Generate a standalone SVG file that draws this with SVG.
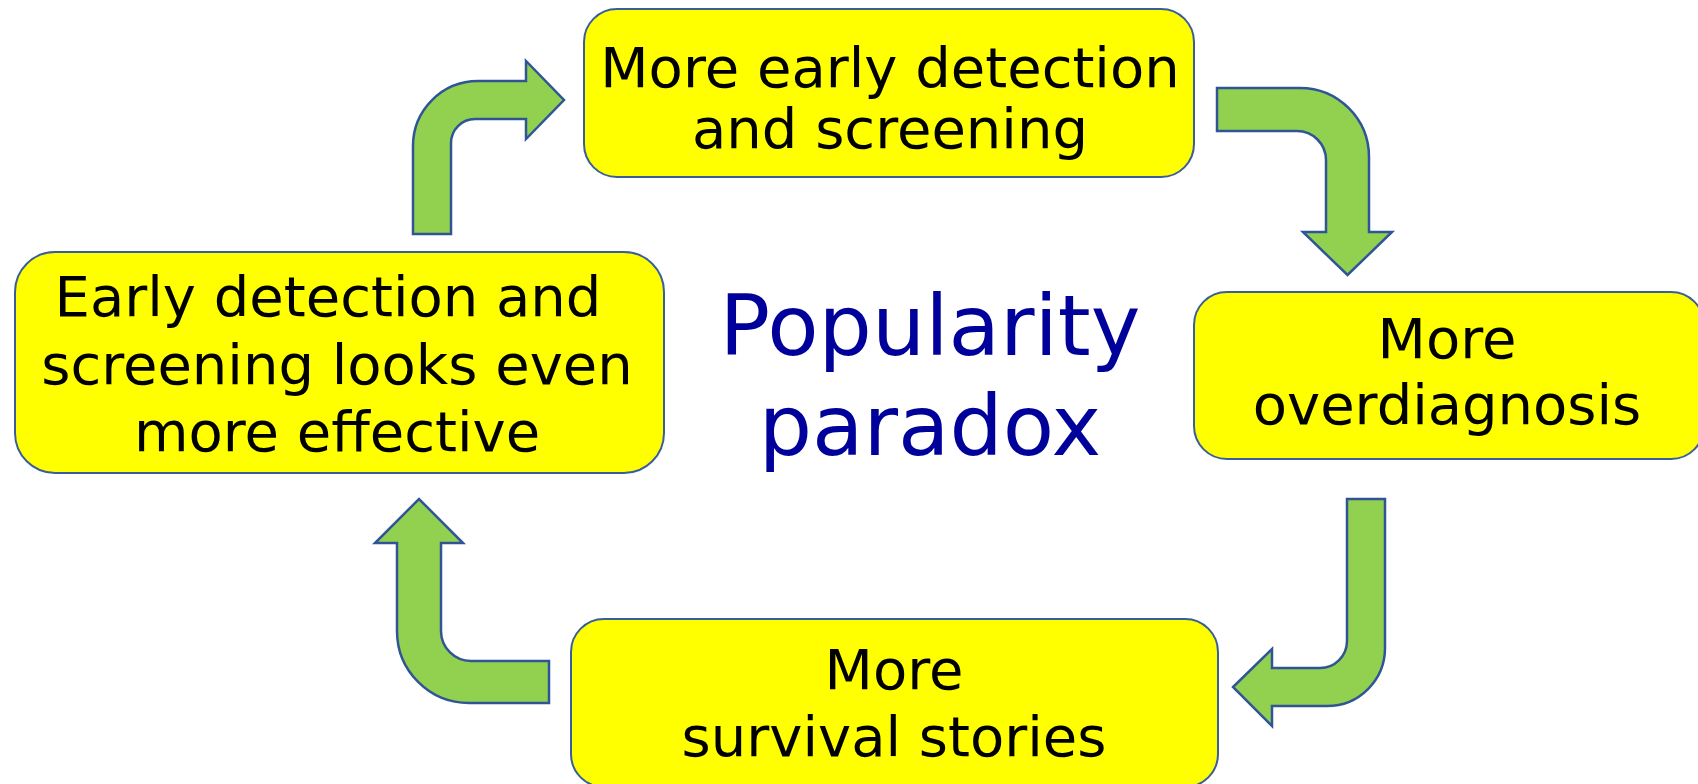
<svg xmlns="http://www.w3.org/2000/svg" width="1698" height="784" viewBox="0 0 1698 784">
  <style>
    .box { fill: #FFFF00; stroke: #3A5E9A; stroke-width: 2; }
    .arrow { fill: #92D050; stroke: #2F5597; stroke-width: 2.5; stroke-linejoin: miter; }
    .label { font-family: "DejaVu Sans", Verdana, sans-serif; font-size: 56px; fill: #000000; text-anchor: middle; }
    .title { font-family: "DejaVu Sans", Verdana, sans-serif; font-size: 84px; fill: #00009A; text-anchor: middle; }
  </style>
  <rect width="1698" height="784" fill="#FFFFFF"/>

  <!-- bent arrows forming the cycle -->
  <g id="connectors">
    <path class="arrow" d="M413,234 L413,146 A65,65 0 0 1 478,81 L526,81 L526,61 L564,100 L526,139 L526,119 L475,119 A24,24 0 0 0 451,143 L451,234 Z"/>
    <path class="arrow" d="M1217,88 L1300,88 A69,69 0 0 1 1369,157 L1369,232 L1392,232 L1347.5,275 L1303,232 L1326,232 L1326,160 A29,29 0 0 0 1297,131 L1217,131 Z"/>
    <path class="arrow" d="M1347,499 L1385,499 L1385,648 A58,58 0 0 1 1327,706 L1272,706 L1272,726 L1233,687 L1272,649 L1272,668 L1320,668 A27,27 0 0 0 1347,641 Z"/>
    <path class="arrow" d="M549,703 L469,703 A72,72 0 0 1 397,631 L397,543 L375,543 L419,499 L463,543 L441,543 L441,631 A30,30 0 0 0 471,661 L549,661 Z"/>
  </g>

  <g id="node-screening">
    <rect class="box" x="584" y="9" width="610" height="168" rx="33"/>
    <text class="label" x="890" y="87">More early detection</text>
    <text class="label" x="890" y="148">and screening</text>
  </g>

  <g id="node-overdiagnosis">
    <rect class="box" x="1194" y="292" width="510" height="167" rx="33"/>
    <text class="label" x="1447" y="358">More</text>
    <text class="label" x="1447" y="424">overdiagnosis</text>
  </g>

  <g id="node-survival">
    <rect class="box" x="571" y="619" width="647" height="168" rx="33"/>
    <text class="label" x="894" y="689">More</text>
    <text class="label" x="894" y="756">survival stories</text>
  </g>

  <g id="node-effective">
    <rect class="box" x="15" y="252" width="649" height="221" rx="40"/>
    <text class="label" x="328" y="316">Early detection and</text>
    <text class="label" x="337" y="384">screening looks even</text>
    <text class="label" x="337" y="451">more effective</text>
  </g>

  <g id="title">
    <text class="title" x="930" y="355">Popularity</text>
    <text class="title" x="930" y="455">paradox</text>
  </g>
</svg>
